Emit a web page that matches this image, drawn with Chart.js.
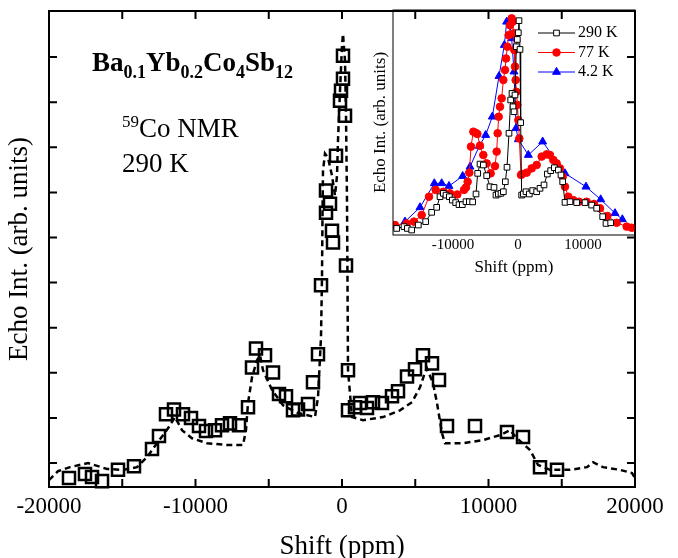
<!DOCTYPE html>
<html>
<head>
<meta charset="utf-8">
<title>59Co NMR spectrum</title>
<script src="https://cdn.jsdelivr.net/npm/chart.js@4.4.1/dist/chart.umd.min.js"></script>
<style>
  html, body { margin: 0; padding: 0; background: #fff; overflow: hidden; }
  #wrap { position: relative; width: 678px; height: 558px; }
  #main { position: absolute; left: 0; top: 0; }
  #inset { position: absolute; left: 360px; top: 0; }
</style>
</head>
<body>
<div id="wrap">
  <canvas id="main" width="678" height="558"></canvas>
  <canvas id="inset" width="318" height="285"></canvas>
</div>
<script>
/* main panel: 290 K spectrum (squares) and simulation (dashed) */
var SQ_X = [-18635, -17543, -17065, -16382, -15290, -14198, -12969, -12492, -12014, -11468,
            -10853, -10307, -9761, -9283, -8669, -8191, -7645, -7031, -6416, -6143,
            -5870, -5256, -4710, -4300, -3823, -3345, -3003, -2321, -1980, -1638,
            -1433, -1092, -1092, -819, -683, -614, -410, -137, -68, 68,
            68, 205, 273, 410, 410, 887, 1229, 1707, 2116, 2730,
            3413, 3823, 4437, 4983, 5529, 6143, 6621, 7167, 9079, 11263,
            12355, 13515, 14676];
var SQ_Y = [-0.33, -0.24, -0.31, -0.40, -0.15, -0.07, 0.31, 0.60, 1.08, 1.19,
            1.08, 1.00, 0.82, 0.71, 0.73, 0.84, 0.88, 0.84, 1.24, 2.12,
            2.54, 2.39, 2.01, 1.53, 1.48, 1.17, 1.19, 1.31, 1.79, 2.41,
            3.94, 5.55, 6.04, 5.75, 5.15, 4.89, 6.81, 8.03, 8.25, 8.52,
            9.03, 7.70, 4.38, 2.06, 1.17, 1.24, 1.33, 1.22, 1.35, 1.33,
            1.48, 1.59, 1.92, 2.08, 2.39, 2.21, 1.84, 0.82, 0.82, 0.69,
            0.58, -0.09, -0.15];

var FIT_X = [-20000, -19386, -18567, -17338, -16041, -14949, -13993, -13311, -12628, -11877,
             -11399, -10922, -10239, -9215, -7850, -6758, -6553, -6416, -6143, -5802,
             -5597, -5393, -4778, -4027, -3003, -1843, -1638, -1433, -1365, -1331,
             -1297, -1160, -956, -683, -478, -341, -273, -137, 0, 68,
             205, 273, 341, 375, 410, 683, 1433, 2799, 3959, 4778,
             5324, 5666, 5802, 6212, 6485, 6826, 7031, 8260, 9625, 10785,
             11468, 11946, 12833, 13379, 14198, 15563, 16724, 17134, 17816, 18977,
             19796, 20000];
var FIT_Y = [-0.38, -0.18, -0.09, 0.00, -0.13, -0.15, -0.09, 0.13, 0.44, 0.77,
             1.02, 0.73, 0.55, 0.44, 0.40, 0.40, 0.73, 1.33, 1.90, 2.28,
             2.39, 2.06, 1.62, 1.28, 1.11, 1.02, 1.46, 2.79, 4.12, 5.49,
             6.48, 6.86, 6.77, 6.37, 5.93, 6.37, 7.15, 8.25, 9.25, 9.51,
             8.92, 7.70, 5.82, 4.05, 2.06, 1.02, 0.95, 1.02, 1.17, 1.35,
             1.68, 2.01, 2.10, 1.77, 1.33, 0.66, 0.44, 0.44, 0.51, 0.62,
             0.73, 0.55, 0.29, -0.04, -0.15, -0.15, -0.09, 0.02, -0.09, -0.15,
             -0.22, -0.33];

var X_TICKS = [-20000, -15000, -10000, -5000, 0, 5000, 10000, 15000, 20000];
var X_TICK_LABELS = [-20000, -10000, 0, 10000, 20000];

/* inset: temperature dependence */
var INSET_SERIES = ['290 K', '77 K', '4.2 K'];
var INSET_X_TICK_LABELS = [-10000, 0, 10000];

var K290_X = [-18666, -17538, -17025, -16358, -15333, -14205, -13282, -12512, -12000, -11487,
              -11077, -10564, -10102, -9590, -9077, -8564, -8000, -7487, -6974, -6461,
              -6205, -5846, -5333, -4820, -4307, -3692, -3385, -3026, -2615, -2256,
              -1949, -1692, -1385, -1128, -923, -769, -615, -462, -256, -103,
              51, 154, 308, 410, 564, 820, 1231, 1744, 2256, 2872,
              3385, 4000, 4513, 5026, 5590, 6205, 6615, 6872, 7231, 8000,
              9026, 10308, 11333, 12102, 13025, 13538, 14256];
var K290_Y = [2.9, 3.7, 2.9, 2.2, 4.4, 5.9, 10.0, 12.2, 16.9, 18.4,
              17.6, 16.9, 15.4, 14.3, 13.4, 13.4, 14.7, 14.7, 14.6, 18.1,
              27.2, 31.3, 30.9, 26.2, 21.3, 21.0, 17.6, 18.1, 18.4, 19.1,
              23.5, 29.9, 44.9, 59.6, 62.5, 56.6, 54.4, 61.8, 83.1, 86.3,
              89.3, 94.6, 81.9, 49.6, 17.6, 18.1, 19.1, 18.1, 19.6, 19.1,
              20.6, 22.1, 26.9, 28.4, 29.7, 28.7, 26.5, 23.5, 14.4, 14.7,
              14.3, 14.3, 13.2, 11.8, 8.1, 5.1, 5.4];

var K77_X = [-18923, -17128, -16000, -14820, -13692, -12666, -11487, -10461, -9333, -8307,
             -8000, -7743, -7487, -7230, -6871, -6513, -6256, -5846, -5333, -4820,
             -4205, -3538, -3282, -3128, -2974, -2769, -2513, -2256, -2000, -1846,
             -1641, -1436, -1231, -974, -820, -667, -564, -462, -359, -256,
             -103, 51, 205, 462, 615, 1333, 2103, 2872, 3641, 4410,
             4923, 5436, 5949, 6461, 6872, 7231, 7743, 8513, 9385, 10564,
             11692, 12615, 13743, 15179, 16718, 17487];
var K77_Y = [4.4, 5.1, 5.9, 8.8, 16.9, 19.9, 19.1, 18.4, 17.9, 19.9,
             21.0, 23.5, 27.5, 39.0, 45.6, 45.1, 44.6, 39.4, 35.3, 31.6,
             27.2, 30.4, 36.8, 44.9, 52.2, 56.6, 60.3, 68.4, 72.8, 77.9,
             83.1, 88.2, 92.6, 95.6, 94.1, 89.0, 81.6, 74.3, 68.4, 63.2,
             57.4, 50.7, 42.6, 26.5, 26.9, 27.5, 29.4, 30.9, 34.6, 35.6,
             35.3, 33.1, 31.6, 29.4, 25.7, 21.3, 16.9, 15.4, 14.7, 14.7,
             13.7, 11.8, 8.4, 5.4, 3.7, 3.2];

var K42_X = [-17384, -15077, -12871, -11743, -10615, -8512, -7384, -5948, -4974, -3948,
             -2923, -2102, -1743, -1333, -974, -615, -308, 51, 1590, 3795,
             7231, 10461, 12718, 14923, 16051];
var K42_Y = [5.9, 12.2, 22.8, 22.8, 21.6, 26.0, 30.1, 39.3, 44.1, 52.2,
             70.1, 83.8, 94.1, 94.9, 86.8, 72.1, 47.1, 42.2, 35.3, 41.2,
             27.2, 21.3, 15.7, 9.6, 6.9];

var SERIF = "'Liberation Serif', 'Times New Roman', serif";
Chart.defaults.font.family = SERIF;
Chart.defaults.color = '#000';

function pts(xs, ys) {
  return xs.map(function(x, i) { return { x: x, y: ys[i] }; });
}

function fixedTicks(values) {
  return function(scale) {
    scale.ticks = values.map(function(v) { return { value: v }; });
  };
}

/* frame round the plot area, ticks pointing inward */
var frameTicks = {
  id: 'frameTicks',
  afterDraw: function(chart, args, o) {
    var ctx = chart.ctx, a = chart.chartArea;
    var xs = chart.scales.x, ys = chart.scales.y;
    ctx.save();
    ctx.strokeStyle = '#000';
    ctx.lineWidth = o.lineWidth;
    ctx.strokeRect(a.left, a.top, a.right - a.left, a.bottom - a.top);
    ctx.beginPath();
    if (o.len > 0) {
      xs.ticks.forEach(function(t) {
        var px = xs.getPixelForValue(t.value);
        ctx.moveTo(px, a.bottom); ctx.lineTo(px, a.bottom - o.len);
        if (o.top) { ctx.moveTo(px, a.top); ctx.lineTo(px, a.top + o.len); }
      });
    }
    if (o.yTicks) {
      ys.ticks.forEach(function(t) {
        if (!Number.isInteger(t.value) || t.value < 0 || t.value > ys.max - 0.5) return;
        var py = ys.getPixelForValue(t.value);
        ctx.moveTo(a.left, py); ctx.lineTo(a.left + o.len, py);
        ctx.moveTo(a.right, py); ctx.lineTo(a.right - o.len, py);
      });
    }
    ctx.stroke();
    ctx.restore();
  }
};

function drawRuns(ctx, x, y, runs) {
  runs.forEach(function(r) {
    ctx.font = r[1] + ' ' + SERIF;
    ctx.fillText(r[0], x, y + r[2]);
    x += ctx.measureText(r[0]).width;
  });
}

var annotations = {
  id: 'annotations',
  afterDraw: function(chart) {
    var ctx = chart.ctx;
    ctx.save();
    ctx.fillStyle = '#000';
    ctx.textBaseline = 'alphabetic';
    drawRuns(ctx, 92, 71, [
      ['Ba', 'bold 27px', 0], ['0.1', 'bold 18px', 7],
      ['Yb', 'bold 27px', 0], ['0.2', 'bold 18px', 7],
      ['Co', 'bold 27px', 0], ['4', 'bold 18px', 7],
      ['Sb', 'bold 27px', 0], ['12', 'bold 18px', 7]
    ]);
    drawRuns(ctx, 122, 137, [['59', '17px', -10], ['Co NMR', '27px', 0]]);
    drawRuns(ctx, 122, 172, [['290 K', '27px', 0]]);
    ctx.restore();
  }
};

/* legend of the inset: short line with marker, then label */
var insetLegend = {
  id: 'insetLegend',
  afterDraw: function(chart, args, o) {
    var ctx = chart.ctx;
    ctx.save();
    chart.data.datasets.forEach(function(ds, i) {
      var y = o.top + i * o.gap;
      ctx.strokeStyle = ds.borderColor;
      ctx.lineWidth = 1;
      ctx.beginPath();
      ctx.moveTo(o.x0, y); ctx.lineTo(o.x1, y);
      ctx.stroke();
      ctx.fillStyle = ds.pointBackgroundColor;
      ctx.strokeStyle = ds.pointBorderColor;
      ctx.lineWidth = ds.pointBorderWidth;
      Chart.helpers.drawPoint(ctx, {
        pointStyle: ds.pointStyle, radius: ds.pointRadius,
        borderWidth: ds.pointBorderWidth, rotation: 0
      }, (o.x0 + o.x1) / 2, y);
      ctx.fillStyle = '#000';
      ctx.font = o.size + 'px ' + SERIF;
      ctx.textBaseline = 'middle';
      ctx.fillText(ds.label, o.x1 + 3, y);
    });
    ctx.restore();
  }
};

new Chart(document.getElementById('main'), {
  type: 'line',
  data: {
    datasets: [{
      label: 'experiment',
      data: pts(SQ_X, SQ_Y),
      showLine: false,
      pointStyle: 'rect',
      pointRadius: 8.5,
      pointBorderWidth: 2.5,
      pointBorderColor: '#000',
      pointBackgroundColor: 'rgba(0,0,0,0)',
      clip: false
    }, {
      label: 'simulation',
      data: pts(FIT_X, FIT_Y),
      borderColor: '#000',
      borderWidth: 2.5,
      borderDash: [6, 4],
      pointRadius: 0,
      tension: 0,
      fill: false
    }]
  },
  options: {
    responsive: false,
    animation: false,
    devicePixelRatio: 1,
    layout: { padding: { top: 10, right: 43, left: 0, bottom: 0 } },
    plugins: {
      legend: { display: false },
      tooltip: { enabled: false },
      frameTicks: { lineWidth: 2, len: 8, top: true, yTicks: true }
    },
    scales: {
      x: {
        type: 'linear', min: -20000, max: 20000,
        grid: { display: false, drawTicks: false },
        border: { display: false },
        afterBuildTicks: fixedTicks(X_TICKS),
        ticks: {
          autoSkip: false, maxRotation: 0, padding: 6,
          color: '#000', font: { size: 23 },
          callback: function(v) { return X_TICK_LABELS.indexOf(v) >= 0 ? String(v) : ''; }
        },
        title: { display: true, text: 'Shift (ppm)', color: '#000', font: { size: 27 },
                 padding: { top: 0, bottom: -5 } },
        afterFit: function(s) { s.height = 71; }
      },
      y: {
        type: 'linear', min: -0.53, max: 10.02,
        grid: { display: false, drawTicks: false },
        border: { display: false },
        ticks: { display: false, stepSize: 1 },
        title: { display: true, text: 'Echo Int. (arb. units)', color: '#000', font: { size: 27 },
                 padding: { top: 4, bottom: 0 } },
        afterFit: function(s) { s.width = 49; }
      }
    }
  },
  plugins: [frameTicks, annotations]
});

new Chart(document.getElementById('inset'), {
  type: 'line',
  data: {
    datasets: [{
      label: INSET_SERIES[0],
      data: pts(K290_X, K290_Y),
      borderColor: '#000', borderWidth: 1,
      pointStyle: 'rect', pointRadius: 4, pointBorderWidth: 1,
      pointBorderColor: '#000', pointBackgroundColor: '#fff',
      tension: 0, fill: false
    }, {
      label: INSET_SERIES[1],
      data: pts(K77_X, K77_Y),
      borderColor: '#ff0000', borderWidth: 1,
      pointStyle: 'circle', pointRadius: 3.8, pointBorderWidth: 1,
      pointBorderColor: '#ff0000', pointBackgroundColor: '#ff0000',
      tension: 0, fill: false
    }, {
      label: INSET_SERIES[2],
      data: pts(K42_X, K42_Y),
      borderColor: '#0000ff', borderWidth: 1,
      pointStyle: 'triangle', pointRadius: 4.6, pointBorderWidth: 1,
      pointBorderColor: '#0000ff', pointBackgroundColor: '#0000ff',
      tension: 0, fill: false
    }]
  },
  options: {
    responsive: false,
    animation: false,
    devicePixelRatio: 1,
    layout: { padding: { top: 10, right: 43, left: 0, bottom: 0 } },
    plugins: {
      legend: { display: false },
      tooltip: { enabled: false },
      frameTicks: { lineWidth: 1, len: 0, top: false, yTicks: false },
      insetLegend: { x0: 178, x1: 215, top: 33, gap: 19.5, size: 16 }
    },
    scales: {
      x: {
        type: 'linear', min: -19231, max: 18000,
        grid: { display: false, drawTicks: false },
        border: { display: false },
        afterBuildTicks: fixedTicks(INSET_X_TICK_LABELS),
        ticks: {
          autoSkip: false, maxRotation: 0, padding: 1,
          color: '#000', font: { size: 15 },
          callback: function(v) { return String(v); }
        },
        title: { display: true, text: 'Shift (ppm)', color: '#000', font: { size: 17 },
                 padding: { top: 0, bottom: 7 } },
        afterFit: function(s) { s.height = 50; }
      },
      y: {
        type: 'linear', min: 0, max: 99.3,
        grid: { display: false, drawTicks: false },
        border: { display: false },
        ticks: { display: false },
        title: { display: true, text: 'Echo Int. (arb. units)', color: '#000', font: { size: 17 },
                 padding: { top: 10, bottom: 0 } },
        afterFit: function(s) { s.width = 33; }
      }
    }
  },
  plugins: [frameTicks, insetLegend]
});
</script>
</body>
</html>
